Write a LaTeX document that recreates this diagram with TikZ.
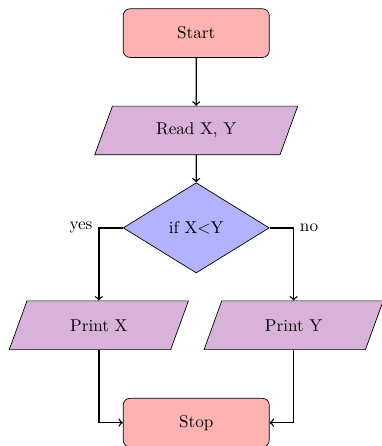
\documentclass[tikz,border=0pt]{standalone}
\usepackage{xcolor}
\usetikzlibrary{shapes.geometric, arrows, positioning}

\begin{document}
\begin{tikzpicture}[node distance=2cm]
\tikzstyle{startstop} = [rectangle, rounded corners, minimum width=3cm, minimum height=1cm, text centered, draw=black, fill=red!30]
\tikzstyle{io} = [trapezium, trapezium left angle=70, trapezium right angle=110, minimum width=3cm, minimum height=1cm, text centered, draw=black, fill=violet!30]
\tikzstyle{decision} = [diamond, minimum width=3cm, minimum height=1.84cm, text centered, draw=black, fill=blue!30]
\tikzstyle{arrow} = [thick,->]

\useasboundingbox (-4.03,-8.48) rectangle (3.81,0.68);

\node (start) [startstop] {Start};
\node (read) [io, below of=start] {Read X, Y};
\node (dec) [decision, below of=read] {if X<Y};
\node (printx) [io, below of=dec, xshift=-2cm] {Print X};
\node (printy) [io, below of=dec, xshift=2cm] {Print Y};
\node (stop) [startstop, below of=printx, xshift=2cm] {Stop};

\draw [arrow] (start) -- (read);
\draw [arrow] (read) -- (dec);
\draw [arrow] (dec) -| node[anchor=east] {yes} (printx);
\draw [arrow] (dec) -| node[anchor=west] {no} (printy);
\draw [arrow] (printx) |- (stop);
\draw [arrow] (printy) |- (stop);

\end{tikzpicture}
\end{document}
